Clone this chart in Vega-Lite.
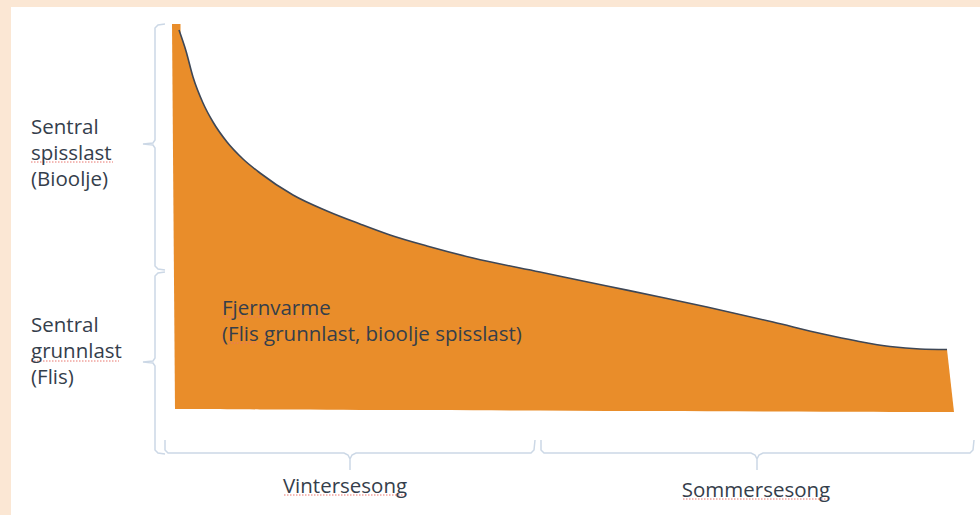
{
  "$schema": "https://vega.github.io/schema/vega-lite/v6.json",
  "width": 969,
  "height": 508,
  "autosize": {"type": "none"},
  "padding": {"left": 11, "top": 7, "right": 0, "bottom": 0},
  "background": "#FBE7D4",
  "config": {"view": {"fill": "white", "stroke": null}},
  "encoding": {
    "x": {"field": "x", "type": "quantitative", "scale": {"domain": [11, 980]}, "axis": null},
    "y": {"field": "y", "type": "quantitative", "scale": {"domain": [7, 515], "reverse": true}, "axis": null}
  },
  "layer": [
    {
      "data": {"values": [
        {"o": 1, "x": 172, "y": 24}, {"o": 2, "x": 180.5, "y": 24}, {"o": 3, "x": 180.5, "y": 409}, {"o": 4, "x": 175, "y": 409},
        {"o": 5, "x": 946, "y": 349.5}, {"o": 6, "x": 947, "y": 349.5}, {"o": 7, "x": 954, "y": 412}, {"o": 8, "x": 946, "y": 412}
      ]},
      "transform": [{"calculate": "datum.o <= 4 ? 'left' : 'right'", "as": "part"}],
      "mark": {"type": "line", "fill": "#E98D2A", "strokeWidth": 0, "interpolate": "linear-closed"},
      "encoding": {"detail": {"field": "part"}, "order": {"field": "o", "type": "quantitative"}}
    },
    {
      "data": {"values": [
        {"x": 179, "y": 30, "b": 409}, {"x": 186, "y": 51, "b": 409}, {"x": 193, "y": 77, "b": 409},
        {"x": 203, "y": 103, "b": 409}, {"x": 213, "y": 122, "b": 409}, {"x": 227, "y": 142, "b": 409.2},
        {"x": 243, "y": 159, "b": 409.3}, {"x": 260, "y": 173, "b": 409.4}, {"x": 293, "y": 195, "b": 409.5},
        {"x": 327, "y": 211, "b": 409.7}, {"x": 360, "y": 224, "b": 409.9}, {"x": 390, "y": 235, "b": 410},
        {"x": 427, "y": 246, "b": 410.1}, {"x": 473, "y": 258, "b": 410.3}, {"x": 540, "y": 272, "b": 410.6},
        {"x": 607, "y": 286, "b": 410.9}, {"x": 660, "y": 297, "b": 411.1}, {"x": 707, "y": 307, "b": 411.3},
        {"x": 773, "y": 322, "b": 411.5}, {"x": 823, "y": 334, "b": 411.7}, {"x": 857, "y": 341, "b": 411.8},
        {"x": 890, "y": 346.5, "b": 411.9}, {"x": 920, "y": 349, "b": 412}, {"x": 947, "y": 349.5, "b": 412}
      ]},
      "layer": [
        {
          "mark": {"type": "area", "color": "#E98D2A", "interpolate": "monotone"},
          "encoding": {"y2": {"field": "b"}}
        },
        {
          "mark": {"type": "line", "color": "#3E4756", "strokeWidth": 1.6, "interpolate": "monotone"}
        }
      ]
    },
    {
      "data": {"values": [
        {"b": "spiss", "o": 1, "x": 165, "y": 24}, {"b": "spiss", "o": 2, "x": 158, "y": 25}, {"b": "spiss", "o": 3, "x": 155, "y": 28},
        {"b": "spiss", "o": 4, "x": 155, "y": 140}, {"b": "spiss", "o": 5, "x": 153, "y": 143}, {"b": "spiss", "o": 6, "x": 143, "y": 144},
        {"b": "spiss", "o": 7, "x": 153, "y": 145}, {"b": "spiss", "o": 8, "x": 155, "y": 148}, {"b": "spiss", "o": 9, "x": 155, "y": 266},
        {"b": "spiss", "o": 10, "x": 158, "y": 269}, {"b": "spiss", "o": 11, "x": 165, "y": 270},
        {"b": "grunn", "o": 1, "x": 165, "y": 272}, {"b": "grunn", "o": 2, "x": 158, "y": 273}, {"b": "grunn", "o": 3, "x": 155, "y": 276},
        {"b": "grunn", "o": 4, "x": 155, "y": 358}, {"b": "grunn", "o": 5, "x": 153, "y": 361}, {"b": "grunn", "o": 6, "x": 143, "y": 362},
        {"b": "grunn", "o": 7, "x": 153, "y": 363}, {"b": "grunn", "o": 8, "x": 155, "y": 366}, {"b": "grunn", "o": 9, "x": 155, "y": 450},
        {"b": "grunn", "o": 10, "x": 158, "y": 453}, {"b": "grunn", "o": 11, "x": 165, "y": 454},
        {"b": "vinter", "o": 1, "x": 165, "y": 440}, {"b": "vinter", "o": 2, "x": 165, "y": 450}, {"b": "vinter", "o": 3, "x": 168, "y": 453},
        {"b": "vinter", "o": 4, "x": 344, "y": 453}, {"b": "vinter", "o": 5, "x": 348, "y": 455}, {"b": "vinter", "o": 6, "x": 350, "y": 459},
        {"b": "vinter", "o": 7, "x": 350, "y": 470}, {"b": "vinter", "o": 8, "x": 350, "y": 459}, {"b": "vinter", "o": 9, "x": 352, "y": 455},
        {"b": "vinter", "o": 10, "x": 356, "y": 453}, {"b": "vinter", "o": 11, "x": 531, "y": 453}, {"b": "vinter", "o": 12, "x": 534, "y": 450},
        {"b": "vinter", "o": 13, "x": 535, "y": 440},
        {"b": "sommer", "o": 1, "x": 541, "y": 440}, {"b": "sommer", "o": 2, "x": 541, "y": 450}, {"b": "sommer", "o": 3, "x": 544, "y": 453},
        {"b": "sommer", "o": 4, "x": 751, "y": 453}, {"b": "sommer", "o": 5, "x": 755, "y": 455}, {"b": "sommer", "o": 6, "x": 757, "y": 459},
        {"b": "sommer", "o": 7, "x": 757, "y": 470}, {"b": "sommer", "o": 8, "x": 757, "y": 459}, {"b": "sommer", "o": 9, "x": 759, "y": 455},
        {"b": "sommer", "o": 10, "x": 763, "y": 453}, {"b": "sommer", "o": 11, "x": 970, "y": 453}, {"b": "sommer", "o": 12, "x": 973, "y": 450},
        {"b": "sommer", "o": 13, "x": 974, "y": 440}
      ]},
      "mark": {"type": "line", "color": "#CCD8E6", "strokeWidth": 1.5, "interpolate": "linear"},
      "encoding": {
        "detail": {"field": "b", "type": "nominal"},
        "order": {"field": "o", "type": "quantitative"}
      }
    },
    {
      "data": {"values": [
        {"x": 31, "x2": 113, "y": 162},
        {"x": 31, "x2": 119, "y": 361},
        {"x": 222, "x2": 325, "y": 317},
        {"x": 228, "x2": 258, "y": 343},
        {"x": 284, "x2": 407, "y": 495},
        {"x": 683, "x2": 830, "y": 499}
      ]},
      "mark": {"type": "rule", "color": "#E8746C", "strokeWidth": 1, "strokeDash": [1.5, 1.5]},
      "encoding": {"x2": {"field": "x2"}}
    },
    {
      "data": {"values": [
        {"x": 31, "y": 134, "t": "Sentral"},
        {"x": 31, "y": 160, "t": "spisslast"},
        {"x": 31, "y": 186, "t": "(Bioolje)"},
        {"x": 31, "y": 332, "t": "Sentral"},
        {"x": 31, "y": 358, "t": "grunnlast"},
        {"x": 31, "y": 384, "t": "(Flis)"},
        {"x": 222, "y": 315, "t": "Fjernvarme"},
        {"x": 222, "y": 341, "t": "(Flis grunnlast, bioolje spisslast)"}
      ]},
      "mark": {"type": "text", "align": "left", "baseline": "alphabetic", "font": "Open Sans", "fontSize": 20.5, "color": "#353E4B"},
      "encoding": {"text": {"field": "t"}}
    },
    {
      "data": {"values": [
        {"x": 345, "y": 493, "t": "Vintersesong"},
        {"x": 756, "y": 497, "t": "Sommersesong"}
      ]},
      "mark": {"type": "text", "align": "center", "baseline": "alphabetic", "font": "Open Sans", "fontSize": 20.5, "color": "#353E4B"},
      "encoding": {"text": {"field": "t"}}
    }
  ]
}
